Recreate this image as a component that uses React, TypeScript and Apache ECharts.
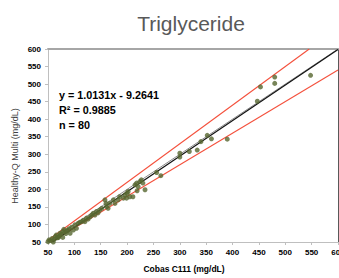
import React, { useEffect, useRef } from "react";
import * as echarts from "echarts";

const titleText = "Triglyceride";
const xName = "Cobas C111 (mg/dL)";
const yName = "Healthy-Q Multi (mg/dL)";
const slope = 1.0131;
const intercept = -9.2641;
const r2 = 0.9885;
const nCount = 80;
const upperFactor = 1.1;
const lowerFactor = 0.9;

const cobasValues = [
  453, 480, 480, 447, 548, 300, 300, 318, 333, 340, 352, 360, 390,
  256, 264,
  200, 202, 205, 211, 215, 218, 219, 221, 224, 227, 230, 234,
  152, 158, 160, 161, 164, 167, 174, 177, 183, 186, 193, 196, 199,
  101, 104, 107, 110, 114, 117, 120, 123, 126, 130, 133, 136, 139, 142, 145, 148,
  50, 52, 55, 58, 60, 62, 64, 66, 68, 70, 72, 73, 75, 78, 78, 80, 82, 84, 86, 88, 90, 92, 95, 98,
];
const multiValues = [
  492, 520, 502, 451, 525, 303, 292, 308, 312, 336, 354, 344, 343,
  248, 239,
  189, 194, 179, 179, 213, 218, 196, 208, 222, 227, 218, 199,
  146, 170, 160, 151, 146, 160, 170, 160, 170, 179, 175, 184, 175,
  99, 89, 103, 106, 108, 112, 108, 118, 115, 122, 127, 132, 127, 137, 133, 141,
  51, 56, 54, 60, 50, 58, 66, 70, 62, 63, 68, 75, 72, 63, 80, 86, 79, 74, 82, 84, 88, 75, 92, 84,
];

const axisMin = 50;
const axisMax = 600;
const axisStep = 50;

function clippedLine(a: number, b: number): number[][] {
  let x1 = axisMin;
  let y1 = a * x1 + b;
  if (y1 < axisMin) {
    x1 = (axisMin - b) / a;
    y1 = axisMin;
  }
  let x2 = axisMax;
  let y2 = a * x2 + b;
  if (y2 > axisMax) {
    x2 = (axisMax - b) / a;
    y2 = axisMax;
  }
  return [
    [x1, y1],
    [x2, y2],
  ];
}

const FONT = "Liberation Sans, Arial, sans-serif";

export default function App() {
  const ref = useRef<HTMLDivElement>(null);
  useEffect(() => {
    if (!ref.current) return;
    const chart = echarts.init(ref.current, undefined, { renderer: "svg" });
    const points = cobasValues.map((x, i) => [x, multiValues[i]]);
    const labelStyle = {
      fontFamily: FONT,
      fontWeight: "bold" as const,
      fontSize: 8,
      color: "#000",
    };
    chart.setOption({
      animation: false,
      backgroundColor: "#fff",
      title: {
        text: titleText,
        left: 186,
        textAlign: "center",
        top: 8,
        textStyle: {
          fontFamily: FONT,
          fontSize: 21,
          fontWeight: "normal",
          color: "#595959",
        },
      },
      grid: {
        left: 48,
        top: 49,
        right: 1,
        bottom: 36,
        containLabel: false,
        outerBoundsMode: "none",
      },
      xAxis: [
        {
          type: "value",
          min: axisMin,
          max: axisMax,
          interval: axisStep,
          axisLine: { show: true, lineStyle: { color: "#bfbfbf", width: 1 } },
          axisTick: { show: true, length: 3, lineStyle: { color: "#bfbfbf" } },
          axisLabel: { ...labelStyle, margin: 6, showMaxLabel: true },
          splitLine: { show: false },
        },
        {
          type: "value",
          position: "top",
          min: axisMin,
          max: axisMax,
          axisLine: { show: true, onZero: false, lineStyle: { color: "#a6a6a6", width: 2 } },
          axisTick: { show: false },
          axisLabel: { show: false },
          splitLine: { show: false },
        },
      ],
      yAxis: [
        {
          type: "value",
          min: axisMin,
          max: axisMax,
          interval: axisStep,
          axisLine: { show: true, lineStyle: { color: "#bfbfbf", width: 1 } },
          axisTick: { show: true, length: 3, lineStyle: { color: "#bfbfbf" } },
          axisLabel: { ...labelStyle, margin: 7 },
          splitLine: { show: false },
        },
        {
          type: "value",
          position: "right",
          min: axisMin,
          max: axisMax,
          axisLine: { show: true, onZero: false, lineStyle: { color: "#595959", width: 1 } },
          axisTick: { show: false },
          axisLabel: { show: false },
          splitLine: { show: false },
        },
      ],
      graphic: [
        {
          type: "text",
          left: 59,
          top: 87,
          style: {
            text: `y = ${slope}x - ${Math.abs(intercept)}\nR² = ${r2}\nn = ${nCount}`,
            fontFamily: FONT,
            fontWeight: "bold",
            fontSize: 10.8,
            lineHeight: 15,
            fill: "#000",
          },
        },
        {
          type: "text",
          x: 184,
          y: 269,
          style: {
            text: xName,
            fontFamily: FONT,
            fontWeight: "bold",
            fontSize: 8.5,
            fill: "#000",
            align: "center",
            verticalAlign: "middle",
          },
        },
        {
          type: "text",
          x: 15,
          y: 156,
          rotation: Math.PI / 2,
          style: {
            text: yName,
            fontFamily: FONT,
            fontSize: 9,
            fill: "#404040",
            align: "center",
            verticalAlign: "middle",
          },
        },
      ],
      series: [
        {
          type: "line",
          data: clippedLine(upperFactor, 0),
          symbol: "none",
          clip: true,
          lineStyle: { color: "#f4503c", width: 1.1 },
          z: 2,
        },
        {
          type: "line",
          data: clippedLine(lowerFactor, 0),
          symbol: "none",
          clip: true,
          lineStyle: { color: "#f4503c", width: 1.1 },
          z: 2,
        },
        {
          type: "line",
          data: clippedLine(1, 0),
          symbol: "none",
          clip: true,
          lineStyle: { color: "#8c8c8c", width: 1 },
          z: 2,
        },
        {
          type: "line",
          data: clippedLine(slope, intercept),
          symbol: "none",
          clip: true,
          lineStyle: { color: "#111", width: 1.2 },
          z: 3,
        },
        {
          type: "scatter",
          data: points,
          symbol: "circle",
          symbolSize: 5,
          itemStyle: { color: "#56672f" },
          z: 4,
        },
      ],
    });
    return () => chart.dispose();
  }, []);
  return (
    <div
      ref={ref}
      style={{ width: 339, height: 278, position: "absolute", left: 0, top: 0 }}
    />
  );
}
